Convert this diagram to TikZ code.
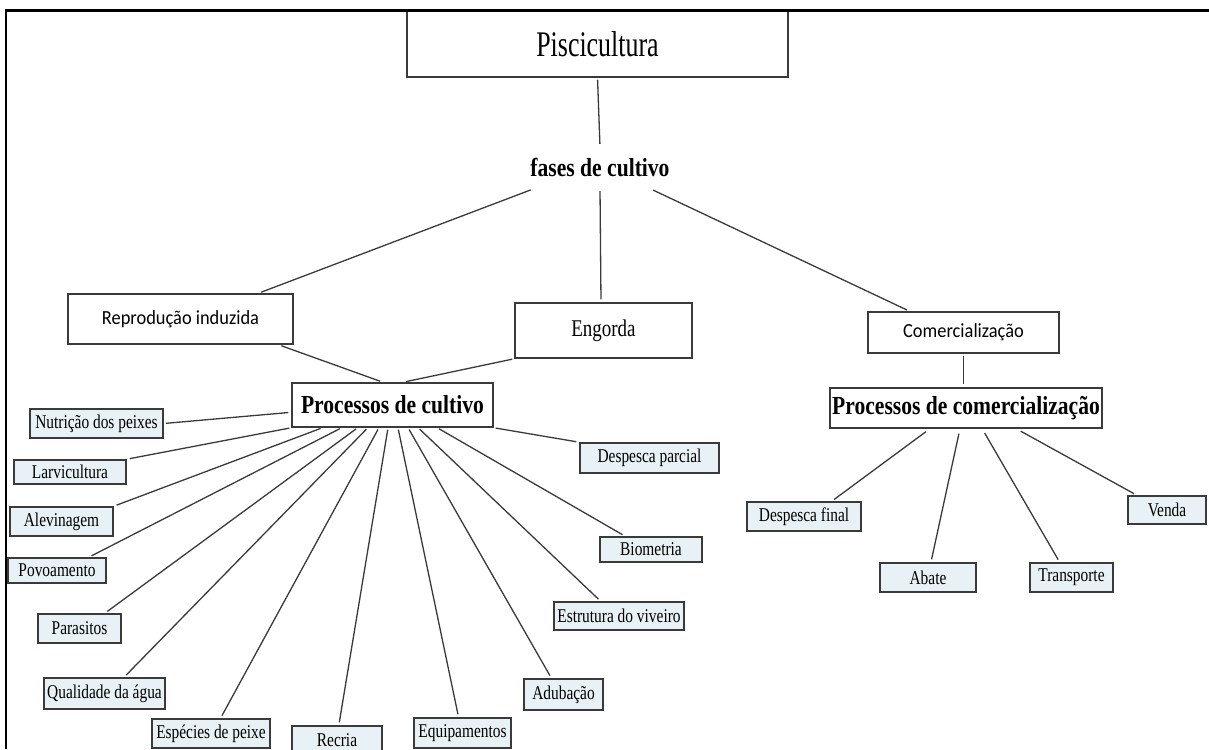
\documentclass[tikz,border=0pt]{standalone}
\usepackage{fontspec}
\usetikzlibrary{calc}
\newfontfamily\titleserif[FakeStretch=0.72]{Liberation Serif}
\newfontfamily\narrowserif[FakeStretch=0.79]{Liberation Serif}
\newfontfamily\headserif[FakeStretch=0.83]{Liberation Serif}
\newfontfamily\boxsans[FakeStretch=0.92]{Carlito}
\definecolor{lineclr}{HTML}{3A3A3A}
\definecolor{leaffill}{HTML}{E8F1F5}
\tikzset{
  mainbox/.style={draw=lineclr, line width=1.5pt, fill=white, inner sep=0pt, align=center},
  sanslabel/.style={font=\boxsans\fontsize{20}{22}\selectfont},
  procbox/.style={mainbox, font=\headserif\bfseries\fontsize{26}{28}\selectfont},
  leaf/.style={draw=lineclr, line width=1.6pt, fill=leaffill, inner sep=0pt,
    font=\narrowserif\fontsize{19.5}{21}\selectfont},
  conn/.style={draw=lineclr, line width=1.3pt, shorten <=2pt, shorten >=3pt},
}
% connector from a point on the lower edge of #1 to a point on the upper edge of #3
\newcommand{\downlink}[4]{%
  \draw[conn] ($(#1.south west)!#2!(#1.south east)$) -- ($(#3.north west)!#4!(#3.north east)$);}

\begin{document}
\begin{tikzpicture}[x=1pt, y=-1pt]
\useasboundingbox (0,0) rectangle (1209,749);

% ---- upper levels ----
\node[mainbox, minimum width=381, minimum height=66,
      font=\titleserif\fontsize{36}{40}\selectfont] (pisc) at (597.5,44) {Piscicultura};
\node[inner sep=0pt, minimum width=140, minimum height=42,
      font=\headserif\bfseries\fontsize{26}{28}\selectfont] (fases) at (600,168) {fases de cultivo};

\node[mainbox, sanslabel, minimum width=225, minimum height=50] (repr) at (180.5,319) {Reprodução induzida};
\node[mainbox, minimum width=177, minimum height=55,
      font=\narrowserif\fontsize{24}{26}\selectfont] (eng) at (603.5,330.5) {Engorda};
\node[mainbox, sanslabel, minimum width=191, minimum height=41] (com) at (963.5,332.5) {Comercialização};

\node[procbox, minimum width=201, minimum height=44] (pc) at (392.5,405) {Processos de cultivo};
\node[procbox, minimum width=272, minimum height=40] (pcom) at (966,408) {Processos de comercialização};

% ---- cultivation processes ----
\node[leaf, minimum width=133, minimum height=29] (nutr) at (96.5,423.5) {Nutrição dos peixes};
\node[leaf, minimum width=112, minimum height=24] (larv) at (70,472) {Larvicultura};
\node[leaf, minimum width=103, minimum height=29] (alev) at (61.5,521.5) {Alevinagem};
\node[leaf, minimum width=98, minimum height=25] (povo) at (57,570.5) {Povoamento};
\node[leaf, minimum width=83, minimum height=29] (para) at (79.5,628.5) {Parasitos};
\node[leaf, minimum width=121, minimum height=31] (qual) at (104.5,693.5) {Qualidade da água};
\node[leaf, minimum width=118, minimum height=29] (espe) at (211,733.5) {Espécies de peixe};
\node[leaf, minimum width=90, minimum height=29] (recr) at (337,740.5) {Recria};
\node[leaf, minimum width=97, minimum height=30] (equi) at (462.5,733) {Equipamentos};
\node[leaf, minimum width=79, minimum height=31] (adub) at (563.5,694.5) {Adubação};
\node[leaf, minimum width=130, minimum height=28] (estr) at (619,616) {Estrutura do viveiro};
\node[leaf, minimum width=102, minimum height=25] (biom) at (651,549.5) {Biometria};
\node[leaf, minimum width=139, minimum height=30] (dpar) at (649.5,458) {Despesca parcial};

% ---- marketing processes ----
\node[leaf, minimum width=114, minimum height=29] (dfin) at (804,516.5) {Despesca final};
\node[leaf, minimum width=96, minimum height=29] (abat) at (928,577.5) {Abate};
\node[leaf, minimum width=83, minimum height=29] (tran) at (1071.5,577.5) {Transporte};
\node[leaf, minimum width=78, minimum height=28] (vend) at (1167,510) {Venda};

% ---- connectors: upper levels ----
\draw[conn] (pisc.south) -- (fases.north);
\downlink{fases}{0.02}{repr}{0.844}
\downlink{fases}{0.50}{eng}{0.486}
\downlink{fases}{0.865}{com}{0.22}
\draw[conn, shorten <=3pt] ($(repr.south west)!0.933!(repr.south east)$) -- ($(pc.north west)!0.453!(pc.north east)$);
\draw[conn] (eng.south west) -- ($(pc.north west)!0.552!(pc.north east)$);
\draw[conn] (com.south) -- (com.south |- pcom.north);

% ---- connectors: cultivation processes ----
\draw[conn] (nutr.east) -- ($(pc.north west)!0.66!(pc.south west)$);
\draw[conn] (pc.south west) -- (larv.north east);
\downlink{pc}{0.154}{alev}{1.0}
\downlink{pc}{0.249}{povo}{0.82}
\downlink{pc}{0.328}{para}{0.80}
\downlink{pc}{0.378}{qual}{0.66}
\downlink{pc}{0.433}{espe}{0.58}
\downlink{pc}{0.478}{recr}{0.52}
\downlink{pc}{0.527}{equi}{0.46}
\downlink{pc}{0.577}{adub}{0.35}
\downlink{pc}{0.627}{estr}{0.36}
\downlink{pc}{0.721}{biom}{0.25}
\draw[conn] (pc.south east) -- (dpar.north west);

% ---- connectors: marketing processes ----
\begin{scope}[conn/.append style={shorten <=5pt}]
\downlink{pcom}{0.368}{dfin}{0.74}
\downlink{pcom}{0.478}{abat}{0.53}
\downlink{pcom}{0.559}{tran}{0.36}
\downlink{pcom}{0.684}{vend}{0.12}
\end{scope}

% ---- page frame ----
\draw[black, line width=3pt] (4.8,11) -- (1209,11);
\draw[black, line width=2.5pt] (6,11) -- (6,749);
\end{tikzpicture}
\end{document}
